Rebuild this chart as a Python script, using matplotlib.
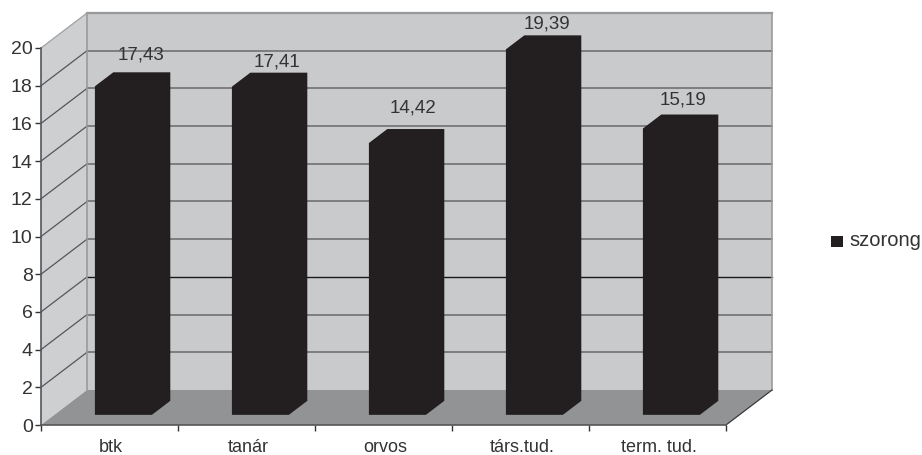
import matplotlib
matplotlib.use("Agg")
import matplotlib.pyplot as plt
from matplotlib.patches import Polygon, Rectangle

categories = ["btk", "tanár", "orvos", "társ.tud.", "term. tud."]
values = [17.43, 17.41, 14.42, 19.39, 15.19]
value_labels = ["17,43", "17,41", "14,42", "19,39", "15,19"]
y_ticks = [0, 2, 4, 6, 8, 10, 12, 14, 16, 18, 20]
series_name = "szorong"

WALL = "#c9cacc"
SIDE = "#cecfd1"
FLOOR = "#929395"
BAR = "#231f20"
TEXT = "#333333"

# oblique projection: how far the full chart depth shifts a point
DX = 0.336
DY = 1.857

BAR_W = 0.416
BAR_NEAR = 0.29
BAR_FAR = 0.69

# pixel nudges of the value labels, measured from the bar's rear top edge
LABEL_DX = [-1, -2, -3, -6, -7]
LABEL_DY = [17, 11, 21, 11, 14.5]

plt.rcParams["font.family"] = ["Liberation Sans", "DejaVu Sans"]


def proj(x, y, d):
    return (x + d * DX, y + d * DY)


def poly(ax, pts, color, zorder):
    ax.add_patch(Polygon(pts, closed=True, facecolor=color, edgecolor="none",
                         zorder=zorder, clip_on=False))


fig = plt.figure(figsize=(9.22, 4.55), dpi=100)
ax = fig.add_axes([41 / 922, 30 / 455, 685 / 922, 377 / 455])
ax.set_xlim(0, 5)
ax.set_ylim(0, 20)
ax.patch.set_visible(False)

# walls and floor
poly(ax, [proj(0, 0, 1), proj(5, 0, 1), proj(5, 20, 1), proj(0, 20, 1)], WALL, 1)
poly(ax, [proj(0, 0, 0), proj(0, 0, 1), proj(0, 20, 1), proj(0, 20, 0)], SIDE, 1)
poly(ax, [proj(0, 0, 0), proj(5, 0, 0), proj(5, 0, 1), proj(0, 0, 1)], FLOOR, 1)

# gridlines along the back wall and the side wall, the 6 line is darker
for v in y_ticks[1:]:
    x0, y0 = proj(0, v, 1)
    x1, y1 = proj(5, v, 1)
    if v == 6:
        ax.plot([x0, x1], [y0, y1], color="#1a1a1a", lw=1.0, zorder=2, clip_on=False)
    elif v == 20:
        ax.plot([x0, x1], [y0, y1], color="#98999b", lw=1.6, zorder=2, clip_on=False)
    else:
        ax.plot([x0, x1], [y0, y1], color="#77787a", lw=1.3, zorder=2, clip_on=False)
    xs, ys = proj(0, v, 0)
    c = "#a0a1a3" if v == 20 else "#55565a"
    ax.plot([xs, x0], [ys, y0], color=c, lw=0.9, zorder=2, clip_on=False)

# outline of the box
for a, b in [(proj(0, 0, 1), proj(0, 20, 1)), (proj(5, 0, 1), proj(5, 20, 1))]:
    ax.plot([a[0], b[0]], [a[1], b[1]], color="#9a9b9d", lw=1.2, zorder=2, clip_on=False)
a, b = proj(5, 0, 0), proj(5, 0, 1)
ax.plot([a[0], b[0]], [a[1], b[1]], color="#3a3a3c", lw=0.9, zorder=2, clip_on=False)

# bars with their bevelled depth
for i, (v, lab) in enumerate(zip(values, value_labels)):
    left = i + 0.5 - BAR_W / 2 + 0.004
    right = left + BAR_W
    pts = [proj(left, 0, BAR_NEAR), proj(right, 0, BAR_NEAR), proj(right, 0, BAR_FAR),
           proj(right, v, BAR_FAR), proj(left, v, BAR_FAR), proj(left, v, BAR_NEAR)]
    poly(ax, pts, BAR, 3)
    lx, ly = proj(i + 0.5 + 0.004, v, BAR_FAR)
    ax.annotate(lab, (lx, ly), xytext=(LABEL_DX[i], LABEL_DY[i]), textcoords="offset pixels",
                ha="center", va="center", fontsize=13.5, color=TEXT, zorder=4,
                annotation_clip=False)

ax.set_xticks(range(6))
ax.set_xticklabels([])
for i, c in enumerate(categories):
    ax.text(i + 0.51, -1.2, c, ha="center", va="center", fontsize=13, color=TEXT)
ax.set_yticks(y_ticks)
ax.set_yticklabels([str(v) for v in y_ticks], fontsize=14, color=TEXT)
ax.tick_params(axis="both", length=4, width=1, color="#333333", pad=2)
for s in ["top", "right"]:
    ax.spines[s].set_visible(False)
for s in ["left", "bottom"]:
    ax.spines[s].set_color("#555658")
    ax.spines[s].set_linewidth(1.2)
    ax.spines[s].set_zorder(5)

# legend entry
fig.patches.append(Rectangle((831 / 922, 1 - 247 / 455), 12 / 922, 11 / 455,
                             transform=fig.transFigure, facecolor=BAR, edgecolor="none"))
fig.text(849 / 922, 1 - 240 / 455, series_name, ha="left", va="center", fontsize=14.5, color=TEXT)

fig.savefig("out.png", dpi=100)
